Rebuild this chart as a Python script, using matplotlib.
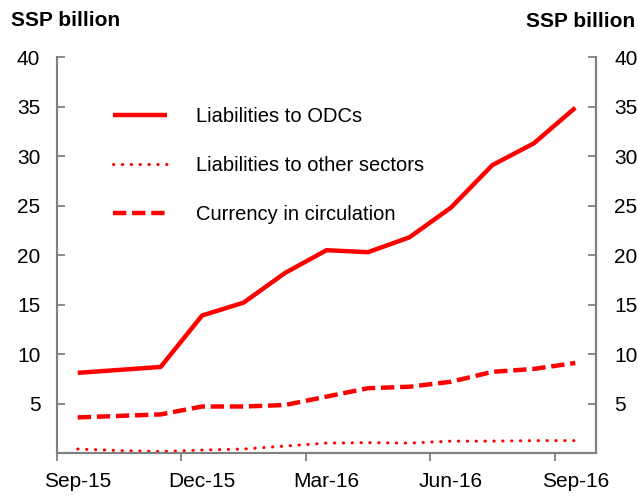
import matplotlib
matplotlib.use("Agg")
import matplotlib.pyplot as plt
import numpy as np

plt.rcParams['font.family'] = ['Liberation Sans', 'DejaVu Sans']

months = ['Sep-15', 'Oct-15', 'Nov-15', 'Dec-15', 'Jan-16', 'Feb-16', 'Mar-16',
          'Apr-16', 'May-16', 'Jun-16', 'Jul-16', 'Aug-16', 'Sep-16']
odcs = [8.1, 8.4, 8.7, 13.9, 15.2, 18.2, 20.5, 20.3, 21.8, 24.8, 29.1, 31.3, 34.9]
other = [0.4, 0.25, 0.15, 0.3, 0.4, 0.7, 1.0, 1.05, 1.0, 1.2, 1.2, 1.25, 1.25]
currency = [3.6, 3.75, 3.9, 4.7, 4.7, 4.85, 5.7, 6.55, 6.7, 7.2, 8.2, 8.5, 9.1]
yticks = [5, 10, 15, 20, 25, 30, 35, 40]

red = '#FF0000'
grey = '#808080'

fig = plt.figure(figsize=(6.38, 5.0), dpi=100)
ax = fig.add_axes([57 / 638, 47 / 500, 539 / 638, 395.7 / 500])
x = np.arange(len(months))

ax.plot(x, odcs, color=red, lw=3.2, solid_capstyle='butt', label='Liabilities to ODCs')
ax.plot(x, other, color=red, lw=2.2, linestyle=(0, (0.1, 2.8)),
        dash_capstyle='round', label='Liabilities to other sectors')
ax.plot(x, currency, color=red, lw=3.2, linestyle=(0, (3.0, 1.3)),
        dash_capstyle='butt', label='Currency in circulation')

ax.set_xlim(-0.5, len(months) - 0.5)
ax.set_ylim(0, 40)

# category axis: marks between groups, labels every quarter
ax.set_xticks(np.arange(-0.5, len(months), 3))
ax.set_xticklabels([])
ax.set_xticks(x[::3], minor=True)
ax.set_xticklabels(months[::3], minor=True)
ax.tick_params(axis='x', which='major', direction='out', length=6, width=1.3, color=grey)
ax.tick_params(axis='x', which='minor', length=0, pad=14, labelsize=15)

ax.set_yticks(yticks)
ax.tick_params(axis='y', direction='in', length=6, width=1.3, color=grey,
               labelsize=15, pad=12)

ax2 = ax.twinx()
ax2.set_ylim(0, 40)
ax2.set_yticks(yticks)
ax2.tick_params(axis='y', direction='in', length=6, width=1.3, color=grey,
                labelsize=15, pad=13)

for a in (ax, ax2):
    a.spines['top'].set_visible(False)
    for s in ('left', 'right', 'bottom'):
        a.spines[s].set_color(grey)
        a.spines[s].set_linewidth(1.5)

ax.legend(loc='upper left', bbox_to_anchor=(0.104, 0.875), frameon=False,
          fontsize=14.5, handlelength=2.7, handletextpad=1.4, labelspacing=1.5,
          borderpad=0, borderaxespad=0)

fig.text(11 / 638, 1 - 11 / 500, 'SSP billion', fontsize=15, fontweight='bold',
         ha='left', va='top')
fig.text(635 / 638, 1 - 12 / 500, 'SSP billion', fontsize=15, fontweight='bold',
         ha='right', va='top')

fig.savefig('out.png', dpi=100)
